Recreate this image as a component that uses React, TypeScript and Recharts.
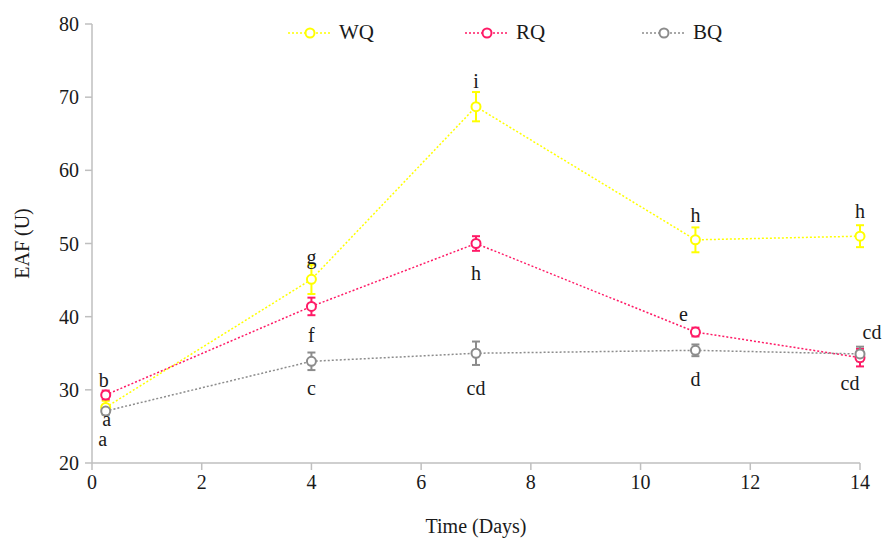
import {
  LineChart,
  Line,
  XAxis,
  YAxis,
  ErrorBar,
  Legend,
  LabelList,
} from "recharts";

const days = [0.25, 4, 7, 11, 14];

const wqValues = [27.6, 45.1, 68.7, 50.5, 51.0];
const rqValues = [29.3, 41.4, 50.0, 37.9, 34.4];
const bqValues = [27.1, 33.9, 35.0, 35.4, 34.9];

const wqErrors = [0.9, 2.0, 2.0, 1.7, 1.5];
const rqErrors = [0.6, 1.2, 1.0, 0.6, 1.2];
const bqErrors = [0.5, 1.2, 1.6, 0.8, 1.0];

const wqLetters = ["a", "g", "i", "h", "h"];
const rqLetters = ["b", "f", "h", "e", "cd"];
const bqLetters = ["a", "c", "cd", "d", "cd"];

const xTicks = [0, 2, 4, 6, 8, 10, 12, 14];
const yTicks = [20, 30, 40, 50, 60, 70, 80];

// label offsets (dx, dy) relative to each point
const wqOffsets = [[1, 12], [0, -22], [0, -26], [0, -25], [0, -25]];
const rqOffsets = [[-2, -15], [0, 29], [0, 29], [-12, -18], [-10, 25]];
const bqOffsets = [[-3, 28], [0, 27], [0, 35], [0, 29], [12, -22]];

const data = days.map((d, i) => ({
  day: d,
  wq: wqValues[i],
  rq: rqValues[i],
  bq: bqValues[i],
  wqErr: wqErrors[i],
  rqErr: rqErrors[i],
  bqErr: bqErrors[i],
}));

const FONT = "'Liberation Serif', 'DejaVu Serif', serif";
const AXIS = "#bfbfbf";

const series = [
  { key: "wq", name: "WQ", color: "#ffff00", letters: wqLetters, offsets: wqOffsets },
  { key: "rq", name: "RQ", color: "#ff1a66", letters: rqLetters, offsets: rqOffsets },
  { key: "bq", name: "BQ", color: "#8c8c8c", letters: bqLetters, offsets: bqOffsets },
];

const makeLetter = (letters: string[], offsets: number[][]) => (props: any) => {
  const { x, y, index } = props;
  const [dx, dy] = offsets[index];
  return (
    <text
      x={x + dx}
      y={y + dy}
      textAnchor="middle"
      dominantBaseline="central"
      fontFamily={FONT}
      fontSize={20}
      fill="#1a1a1a"
    >
      {letters[index]}
    </text>
  );
};

const LegendContent = () => (
  <div style={{ display: "flex", paddingLeft: 288, fontFamily: FONT }}>
    {series.map((s) => (
      <div key={s.key} style={{ width: 177, display: "flex", alignItems: "center" }}>
        <svg width={46} height={16}>
          <line x1={0} y1={8} x2={44} y2={8} stroke={s.color} strokeWidth={1.5} strokeDasharray="2 2" />
          <circle cx={22} cy={8} r={4.5} fill="#fff" stroke={s.color} strokeWidth={2} />
        </svg>
        <span style={{ marginLeft: 5, fontSize: 21, color: "#1a1a1a" }}>{s.name}</span>
      </div>
    ))}
  </div>
);

const App = () => {
  return (
    <div style={{ position: "absolute", left: 0, top: 0 }}>
      <LineChart width={884} height={538} data={data} margin={{ top: 24, right: 24, bottom: 0, left: 20 }}>
        <XAxis
          dataKey="day"
          type="number"
          domain={[0, 14]}
          ticks={xTicks}
          height={75}
          stroke={AXIS}
          strokeWidth={1.5}
          tickSize={7}
          tick={{ fill: "#1a1a1a", fontFamily: FONT, fontSize: 20 }}
          tickMargin={5}
          label={{
            value: "Time (Days)",
            position: "insideBottom",
            offset: 5,
            fill: "#1a1a1a",
            fontFamily: FONT,
            fontSize: 20,
          }}
        />
        <YAxis
          type="number"
          domain={[20, 80]}
          ticks={yTicks}
          width={72}
          stroke={AXIS}
          strokeWidth={1.5}
          tickSize={7}
          tick={{ fill: "#1a1a1a", fontFamily: FONT, fontSize: 20 }}
          tickMargin={6}
          label={{
            value: "EAF (U)",
            angle: -90,
            position: "insideLeft",
            offset: 2,
            fill: "#1a1a1a",
            fontFamily: FONT,
            fontSize: 20,
            style: { textAnchor: "middle" },
          }}
        />
        <Legend
          verticalAlign="middle"
          align="center"
          content={<LegendContent />}
          wrapperStyle={{ top: 20, left: 0, width: 884 }}
        />
        {series.map((s) => (
          <Line
            key={s.key}
            type="linear"
            dataKey={s.key}
            name={s.name}
            stroke={s.color}
            strokeWidth={1.5}
            strokeDasharray="2 2"
            dot={{ r: 4.5, fill: "#fff", stroke: s.color, strokeWidth: 2, strokeDasharray: "" }}
            isAnimationActive={false}
          >
            <ErrorBar
              dataKey={`${s.key}Err`}
              direction="y"
              width={4}
              stroke={s.color}
              strokeWidth={2}
            />
            <LabelList dataKey={s.key} content={makeLetter(s.letters, s.offsets)} />
          </Line>
        ))}
      </LineChart>
    </div>
  );
};

export default App;
